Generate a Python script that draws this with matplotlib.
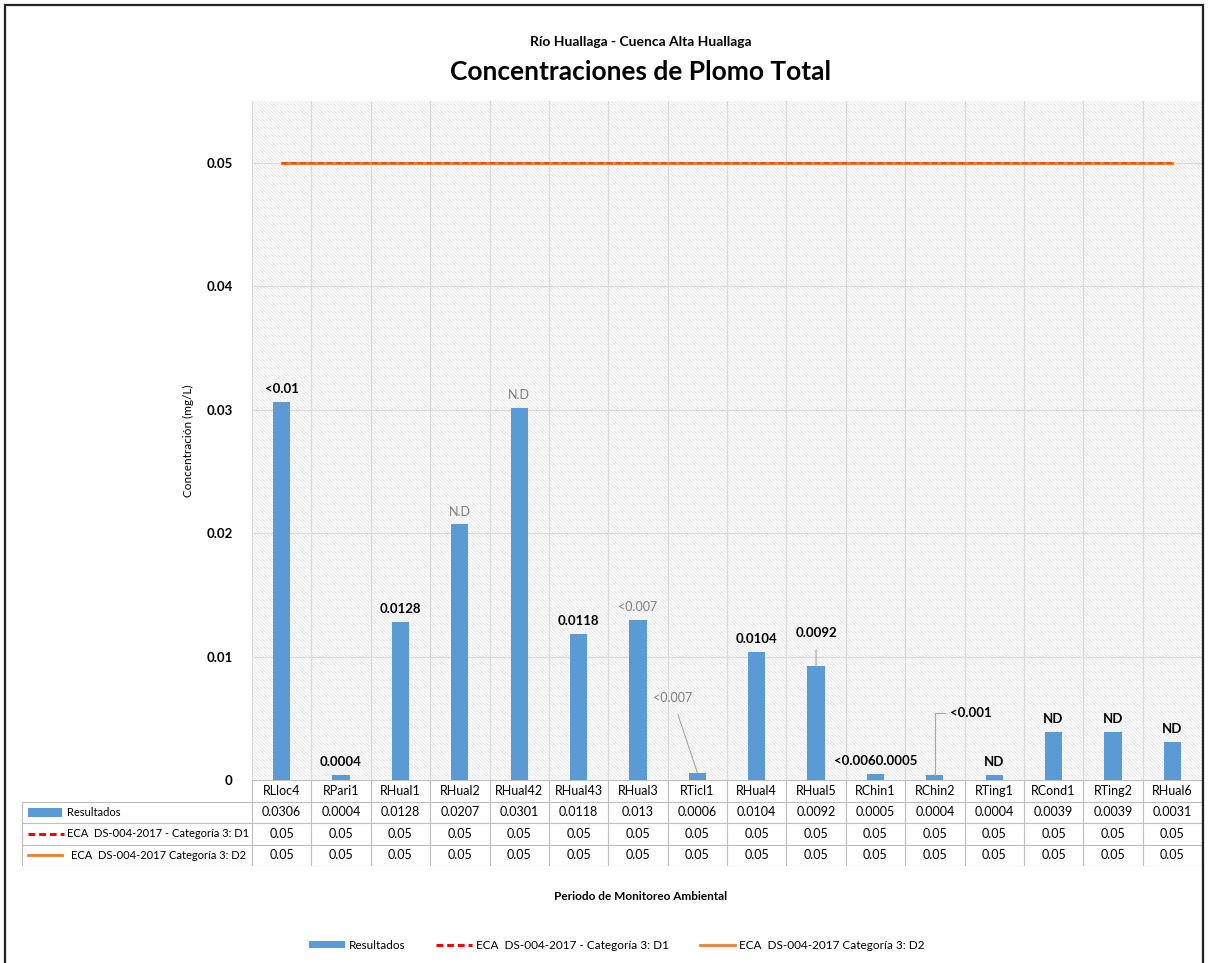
import matplotlib
matplotlib.use("Agg")
import matplotlib.pyplot as plt
from matplotlib.patches import Rectangle
from matplotlib.lines import Line2D
import numpy as np

plt.rcParams["font.family"] = ["Lato", "DejaVu Sans"]
plt.rcParams["hatch.linewidth"] = 0.45

# estaciones y resultados de plomo total (mg/L)
estaciones = ["RLloc4", "RPari1", "RHual1", "RHual2", "RHual42", "RHual43", "RHual3", "RTicl1",
              "RHual4", "RHual5", "RChin1", "RChin2", "RTing1", "RCond1", "RTing2", "RHual6"]
resultados = [0.0306, 0.0004, 0.0128, 0.0207, 0.0301, 0.0118, 0.013, 0.0006,
              0.0104, 0.0092, 0.0005, 0.0004, 0.0004, 0.0039, 0.0039, 0.0031]
eca_d1 = [0.05] * 16
eca_d2 = [0.05] * 16

# etiquetas de datos tal como figuran en el informe
etiquetas = ["<0.01", "0.0004", "0.0128", "N.D", "N.D", "0.0118", "<0.007", "<0.007",
             "0.0104", "0.0092", "<0.0060.0005", "<0.001", "ND", "ND", "ND", "ND"]
etiq_gris = [False, False, False, True, True, False, True, True,
             False, False, False, False, False, False, False, False]

nombre_res = "Resultados"
nombre_d1 = "ECA  DS-004-2017 - Categoría 3: D1"
nombre_d2 = "ECA  DS-004-2017 Categoría 3: D2"

AZUL = "#5b9bd5"
ROJO = "#ff0000"
NARANJA = "#ed7d31"
GRIS_GRID = "#d9d9d9"
GRIS_TABLA = "#bfbfbf"
FS = 9

W, H = 1209, 963
fig = plt.figure(figsize=(W / 100, H / 100), dpi=100)

# marco exterior
fig.patches.append(Rectangle((5 / W, -0.01), 1198 / W, 1 - 5 / H + 0.01, transform=fig.transFigure,
                             fill=False, edgecolor="#222222", linewidth=1.6))

x0, x1, ytop, ybot = 252, 1202, 101, 780
ax = fig.add_axes([x0 / W, (H - ybot) / H, (x1 - x0) / W, (ybot - ytop) / H])
n = len(estaciones)
x = np.arange(n)

# fondo rayado del area de trazado
ax.add_patch(Rectangle((0, 0), 1, 1, transform=ax.transAxes, facecolor="white",
                       edgecolor="#dcdcdc", hatch="\\" * 10, linewidth=0, zorder=0))

ax.bar(x, resultados, width=0.29, color=AZUL, zorder=3, label=nombre_res)
ax.plot(x, eca_d2, color=NARANJA, linewidth=2.2, zorder=4, label=nombre_d2)
ax.plot(x, eca_d1, color=ROJO, linewidth=1.3, linestyle=(0, (3, 2)), alpha=0.45, zorder=5)

ax.set_xlim(-0.5, n - 0.5)
ax.set_ylim(0, 0.055)
ax.set_yticks([0, 0.01, 0.02, 0.03, 0.04, 0.05])
ax.set_yticklabels(["0", "0.01", "0.02", "0.03", "0.04", "0.05"], fontsize=9.5, fontweight="bold")
ax.set_xticks(np.arange(-0.5, n, 1.0))
ax.set_xticklabels([])
ax.tick_params(length=0, pad=14)
ax.grid(True, color=GRIS_GRID, linewidth=0.8, zorder=1)
ax.set_axisbelow(True)
for s in ax.spines.values():
    s.set_visible(False)
ax.set_ylabel("Concentración (mg/L)", fontsize=8.5, labelpad=9)

# etiquetas sobre las barras
for i, (v, t, g) in enumerate(zip(resultados, etiquetas, etiq_gris)):
    col = "#7f7f7f" if g else "black"
    fw = "normal" if g else "bold"
    if estaciones[i] == "RTicl1":
        ax.annotate(t, xy=(i, v), xytext=(-18, 54), textcoords="offset points", ha="center", va="center",
                    fontsize=FS, color=col, fontweight=fw,
                    arrowprops=dict(arrowstyle="-", color="#a6a6a6", lw=0.8, shrinkA=6, shrinkB=0))
    elif estaciones[i] == "RHual5":
        ax.annotate(t, xy=(i, v), xytext=(0, 24), textcoords="offset points", ha="center", va="center",
                    fontsize=FS + 0.5, color=col, fontweight=fw,
                    arrowprops=dict(arrowstyle="-", color="#a6a6a6", lw=0.8, shrinkA=6, shrinkB=0))
    elif estaciones[i] == "RChin2":
        ax.annotate(t, xy=(i, v), xytext=(11, 45), textcoords="offset points", ha="left", va="center",
                    fontsize=FS + 0.5, color=col, fontweight=fw,
                    arrowprops=dict(arrowstyle="-", color="#a6a6a6", lw=0.8, shrinkA=2, shrinkB=0,
                                    connectionstyle="angle,angleA=0,angleB=90,rad=0"))
    else:
        ax.annotate(t, xy=(i, v), xytext=(0, 5), textcoords="offset points", ha="center", va="bottom",
                    fontsize=FS + (0 if g else 0.5), color=col, fontweight=fw)

# tabla de datos bajo el grafico
tx0, tby = 22, 866
px_unit = (x1 - x0) / n
tax = fig.add_axes([tx0 / W, (H - tby) / H, (x1 - tx0) / W, (tby - ybot) / H])
xmin = -0.5 - (x0 - tx0) / px_unit
tax.set_xlim(xmin, n - 0.5)
tax.set_ylim(4, 0)
tax.axis("off")

lw_t = 0.8
# lineas horizontales
tax.plot([-0.5, n - 0.5], [0, 0], color=GRIS_TABLA, lw=lw_t)
for r in (1, 2, 3, 4):
    tax.plot([xmin, n - 0.5], [r, r], color=GRIS_TABLA, lw=lw_t)
# lineas verticales
for b in np.arange(-0.5, n, 1.0):
    tax.plot([b, b], [0, 4], color=GRIS_TABLA, lw=lw_t)
tax.plot([xmin, xmin], [1, 4], color=GRIS_TABLA, lw=lw_t)
tax.plot([n - 0.5, n - 0.5], [0, 4], color=GRIS_TABLA, lw=lw_t)

for i in range(n):
    tax.text(i, 0.5, estaciones[i], ha="center", va="center", fontsize=FS)
    tax.text(i, 1.5, f"{resultados[i]:g}", ha="center", va="center", fontsize=FS)
    tax.text(i, 2.5, f"{eca_d1[i]:g}", ha="center", va="center", fontsize=FS)
    tax.text(i, 3.5, f"{eca_d2[i]:g}", ha="center", va="center", fontsize=FS)

# claves de serie en la primera columna
FS_K = 8
k0 = xmin + 6 / px_unit
k1 = xmin + 40 / px_unit
tax.add_patch(Rectangle((k0, 1.3), k1 - k0, 0.4, facecolor=AZUL, edgecolor="none"))
tax.text(xmin + 45 / px_unit, 1.5, nombre_res, ha="left", va="center", fontsize=FS_K)
tax.plot([k0, xmin + 42 / px_unit], [2.5, 2.5], color=ROJO, lw=2.2, linestyle=(0, (2.2, 1.3)))
tax.text(xmin + 45 / px_unit, 2.5, nombre_d1, ha="left", va="center", fontsize=FS_K)
tax.plot([k0, k1], [3.5, 3.5], color=NARANJA, lw=2)
tax.text(xmin + 49 / px_unit, 3.5, nombre_d2, ha="left", va="center", fontsize=FS_K)

# titulos
fig.text(641 / W, 1 - 42 / H, "Río Huallaga - Cuenca Alta Huallaga", ha="center", va="center",
         fontsize=10, fontweight="bold")
fig.text(641 / W, 1 - 72 / H, "Concentraciones de Plomo Total", ha="center", va="center",
         fontsize=19, fontweight="bold")
fig.text(641 / W, 1 - 896 / H, "Periodo de Monitoreo Ambiental", ha="center", va="center",
         fontsize=8.5, fontweight="bold")

# leyenda inferior
handles = [Rectangle((0, 0), 1, 1, facecolor=AZUL),
           Line2D([], [], color=ROJO, lw=2.2, linestyle=(0, (2.2, 1.3))),
           Line2D([], [], color=NARANJA, lw=2)]
fig.legend(handles, [nombre_res, nombre_d1, nombre_d2], loc="center", ncol=3,
           bbox_to_anchor=(617 / W, 1 - 945 / H), frameon=False, fontsize=8.5,
           handlelength=3.0, handleheight=0.6, columnspacing=2.6, handletextpad=0.35)

fig.savefig("out.png", dpi=100)
